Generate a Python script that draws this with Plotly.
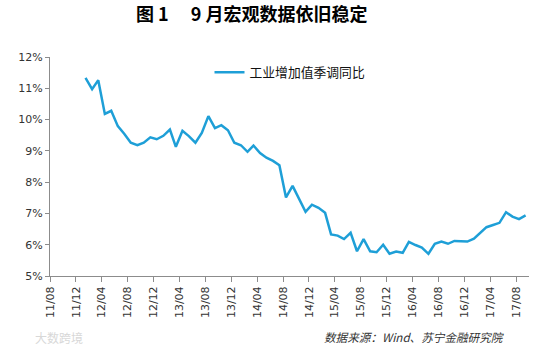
import pandas as pd
import plotly.graph_objects as go

# Monthly data, Jan 2012 - Sep 2017 (工业增加值季调同比, %)
start_month = "2012-01"
values = [
    11.33, 10.97, 11.26, 10.18, 10.28, 9.79, 9.55, 9.26, 9.18, 9.26, 9.43, 9.37,
    9.48, 9.68, 9.13, 9.64, 9.47, 9.26, 9.57, 10.11, 9.73, 9.82, 9.66, 9.26,
    9.18, 8.97, 9.17, 8.93, 8.78, 8.68, 8.54, 7.51, 7.88, 7.47, 7.05, 7.28,
    7.18, 7.02, 6.33, 6.29, 6.18, 6.38, 5.79, 6.18, 5.79, 5.76, 6.00, 5.71,
    5.78, 5.74, 6.09, 5.99, 5.91, 5.71, 6.03, 6.10, 6.03, 6.12, 6.10, 6.10,
    6.19, 6.38, 6.56, 6.63, 6.70, 7.04, 6.90, 6.82, 6.94,
]
series_name = "工业增加值季调同比"
title_text = "图 1　 9 月宏观数据依旧稳定"
source_text = "数据来源：Wind、苏宁金融研究院"
watermark_text = "大数跨境"
tick_months = pd.date_range("2011-08-01", "2017-08-01", freq="4MS")
y_ticks = [5, 6, 7, 8, 9, 10, 11, 12]
y_labels = [f"{v}%" for v in y_ticks]

dates = pd.date_range(start_month + "-01", periods=len(values), freq="MS") + pd.Timedelta(days=14)

LINE = "#1E9FD7"
AXIS = "#8C8C8C"

fig = go.Figure()
fig.add_trace(go.Scatter(
    x=dates, y=values, mode="lines", name=series_name,
    line=dict(color=LINE, width=2.5),
))

fig.update_layout(
    width=547, height=347,
    margin=dict(l=50, r=18, t=57, b=71),
    paper_bgcolor="white", plot_bgcolor="white",
    showlegend=True,
    legend=dict(
        x=0.333, y=0.93, xanchor="left", yanchor="middle",
        font=dict(family="Noto Sans CJK SC", size=12.8, color="#111"),
        bgcolor="rgba(0,0,0,0)", itemwidth=30,
    ),
    font=dict(family="DejaVu Sans", size=11, color="#333"),
)

fig.update_xaxes(
    type="date",
    range=["2011-08-01", "2017-10-01"],
    tickvals=list(tick_months),
    tickformat="%y/%m",
    tickangle=-90,
    ticks="outside", ticklen=5, tickcolor=AXIS,
    showline=True, linecolor=AXIS, linewidth=1,
    showgrid=False, zeroline=False,
    tickfont=dict(family="DejaVu Sans", size=11, color="#333"),
)
fig.update_yaxes(
    range=[5, 12],
    tickvals=y_ticks,
    ticktext=y_labels,
    ticks="outside", ticklen=4, tickcolor=AXIS,
    showline=True, linecolor=AXIS, linewidth=1,
    showgrid=False, zeroline=False,
    tickfont=dict(family="DejaVu Sans", size=11, color="#333"),
)

fig.add_annotation(
    text="<b>" + title_text + "</b>", xref="paper", yref="paper",
    x=0.1754, xshift=0, y=1, yshift=44, xanchor="left", yanchor="middle", showarrow=False,
    font=dict(family="Noto Sans CJK SC", size=18, color="#000"),
)
fig.add_annotation(
    text="<i>" + source_text + "</i>", xref="paper", yref="paper",
    x=1, xshift=-22, y=0, yshift=-61, xanchor="right", yanchor="middle", showarrow=False,
    font=dict(family="Noto Sans CJK SC", size=11.6, color="#333"),
)
fig.add_annotation(
    text=watermark_text, xref="paper", yref="paper",
    x=0, xshift=-17, y=0, yshift=-61, xanchor="left", yanchor="middle", showarrow=False,
    font=dict(family="Noto Sans CJK SC", size=12, color="#D8D8D8"),
)

fig.write_html("out.html")
